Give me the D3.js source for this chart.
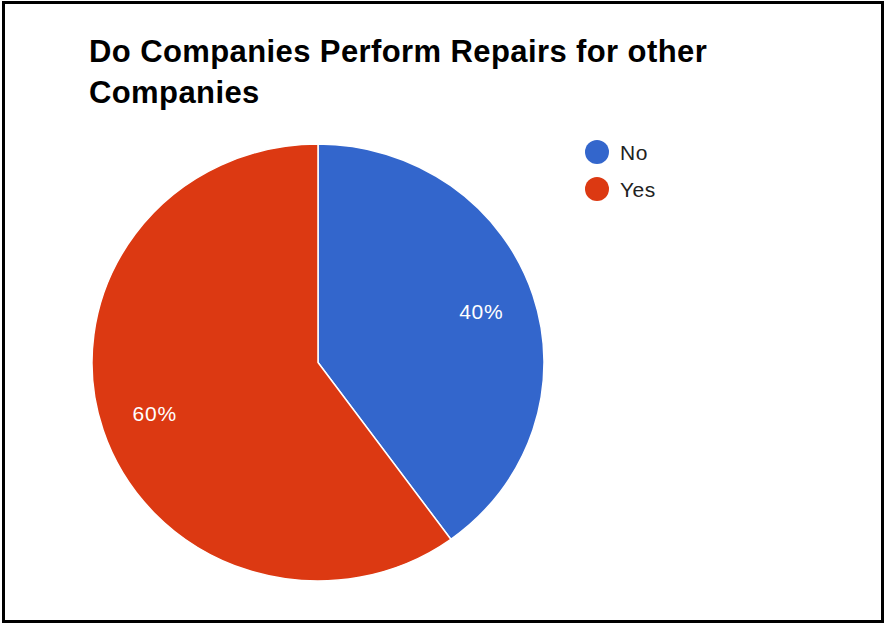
<!DOCTYPE html>
<html>
<head>
<meta charset="utf-8">
<script src="https://cdn.jsdelivr.net/npm/d3@7"></script>
<style>
  html, body { margin: 0; padding: 0; background: #fff; }
  svg { display: block; }
</style>
</head>
<body>
<svg id="chart" width="885" height="624"></svg>
<script>
// Survey answers and their shares (percent)
const categories = ["No", "Yes"];
const shares = [40, 60];
const sliceColors = ["#3366cc", "#dc3912"];
const titleLines = ["Do Companies Perform Repairs for other", "Companies"];

const svg = d3.select("#chart");
const W = 885, H = 624;
const font = "'Liberation Sans', Arial, sans-serif";

// Frame
svg.append("rect")
  .attr("x", 3.5).attr("y", 2.5)
  .attr("width", W - 6).attr("height", H - 5)
  .attr("fill", "#fff")
  .attr("stroke", "#000")
  .attr("stroke-width", 3);

// Title
svg.append("g").selectAll("text")
  .data(titleLines)
  .join("text")
  .attr("x", 89)
  .attr("y", (d, i) => 62 + i * 41)
  .attr("font-family", font)
  .attr("font-weight", "bold")
  .attr("font-size", 31)
  .attr("letter-spacing", 0.4)
  .attr("fill", "#000")
  .text(d => d);

// Pie (slightly wider than tall)
const cx = 318, cy = 362.5, rx = 226, ry = 218.5;
const sx = rx / ry;
const data = categories.map((c, i) => ({ cat: c, value: shares[i], color: sliceColors[i] }));
const pie = d3.pie().value(d => d.value).sort(null);
const arcs = pie(data);
const arc = d3.arc().innerRadius(0).outerRadius(ry);
const labelArc = d3.arc().innerRadius(ry * 0.76).outerRadius(ry * 0.76);

const g = svg.append("g").attr("transform", `translate(${cx},${cy})`);
g.append("g").attr("transform", `scale(${sx},1)`)
  .selectAll("path")
  .data(arcs)
  .join("path")
  .attr("d", arc)
  .attr("fill", d => d.data.color)
  .attr("stroke", "#fff")
  .attr("stroke-width", 1.5)
  .attr("vector-effect", "non-scaling-stroke");

g.selectAll("text")
  .data(arcs)
  .join("text")
  .attr("transform", d => {
    const [x, y] = labelArc.centroid(d);
    return `translate(${x * sx},${y})`;
  })
  .attr("text-anchor", "middle")
  .attr("dy", "0.35em")
  .attr("font-family", font)
  .attr("font-size", 21)
  .attr("letter-spacing", 0.8)
  .attr("fill", "#fff")
  .text(d => d3.format(".0f")(d.data.value) + "%");

// Legend
const legend = svg.append("g").attr("transform", "translate(597,152)");
const items = legend.selectAll("g")
  .data(data)
  .join("g")
  .attr("transform", (d, i) => `translate(0,${i * 37})`);
items.append("circle")
  .attr("r", 12)
  .attr("fill", d => d.color);
items.append("text")
  .attr("x", 23)
  .attr("dy", "0.36em")
  .attr("font-family", font)
  .attr("font-size", 21)
  .attr("letter-spacing", 0.5)
  .attr("fill", "#222")
  .text(d => d.cat);
</script>
</body>
</html>
